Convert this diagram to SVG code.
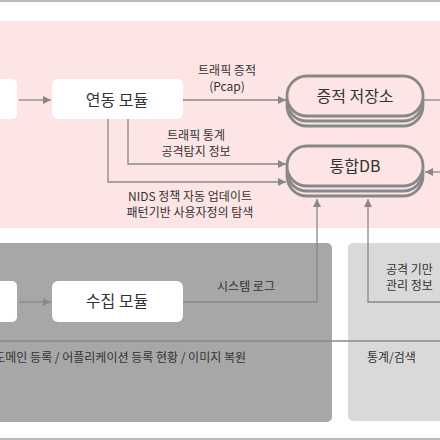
<svg xmlns="http://www.w3.org/2000/svg" width="440" height="440" viewBox="0 0 440 440">
<style>
.t{font-family:"Noto Sans CJK KR","Noto Sans",sans-serif;fill:#333}
.n{font-size:16px;text-anchor:middle}
.l{font-size:12px}
.c{text-anchor:middle}
.box{fill:#fff}
.db{fill:#fde5e5;stroke:#888;stroke-width:2.8}
.ln{fill:none;stroke:#888;stroke-width:1.3}
</style>
<defs>
<marker id="ah" viewBox="0 0 10 10" refX="10" refY="5" markerWidth="8" markerHeight="8" markerUnits="userSpaceOnUse" orient="auto">
<path d="M0,0 L10,5 L0,10 z" fill="#888"/>
</marker>
</defs>
<rect x="0" y="0" width="440" height="440" fill="#fff"/>
<rect x="0" y="0" width="440" height="2" fill="#bbb"/>
<rect x="0" y="438" width="440" height="2" fill="#bbb"/>
<rect x="0" y="21" width="440" height="207" fill="#fde5e5"/>
<rect x="-10" y="243" width="342" height="179" rx="5" fill="#a7a7a7"/>
<rect x="348" y="243" width="102" height="178" rx="5" fill="#d9d9d9"/>

<g id="connectors">
<path class="ln" d="M19,100 H51" marker-end="url(#ah)"/>
<path class="ln" d="M183,100 H286" marker-end="url(#ah)"/>
<path class="ln" d="M423,100 H440"/>
<path class="ln" d="M128,119 V164 H286" marker-end="url(#ah)"/>
<path class="ln" d="M108,119 V182 H286" marker-end="url(#ah)"/>
<path class="ln" d="M440,172 H425" marker-end="url(#ah)"/>
<path class="ln" d="M19,302 H51" marker-end="url(#ah)"/>
<path class="ln" d="M183,302 H317 V199" marker-end="url(#ah)"/>
<path class="ln" d="M440,302 H368 V199" marker-end="url(#ah)"/>
<path class="ln" d="M0,341 H440"/>
<text class="t l c" x="227" y="75">트래픽 증적<tspan x="227" dy="15.5">(Pcap)</tspan></text>
<text class="t l c" x="196" y="140">트래픽 통계<tspan x="196" dy="15.5">공격탐지 정보</tspan></text>
<text class="t l c" x="190" y="201">NIDS 정책 자동 업데이트<tspan x="190" dy="16">패턴기반 사용자정의 탐색</tspan></text>
<text class="t l c" x="246" y="291">시스템 로그</text>
<text class="t l" x="386" y="274">공격 기만<tspan x="386" dy="15.5">관리 정보</tspan></text>
<text class="t l" x="246" y="362" text-anchor="end">도메인 등록 / 어플리케이션 등록 현황 / 이미지 복원</text>
<text class="t l" x="367" y="362">통계/검색</text>
</g>

<g id="node-left-top"><rect class="box" x="-20" y="79" width="37" height="40" rx="5"/></g>
<g id="node-link"><rect class="box" x="52" y="79" width="131" height="40" rx="6"/><text class="t n" x="117" y="106">연동 모듈</text></g>
<g id="node-evidence">
<rect class="db" x="287" y="86" width="136" height="40" rx="20"/>
<rect class="db" x="287" y="81" width="136" height="40" rx="20"/>
<rect class="db" x="287" y="76" width="136" height="40" rx="20"/>
<text class="t n" x="355" y="102">증적 저장소</text>
</g>
<g id="node-db">
<rect class="db" x="287" y="156" width="136" height="40" rx="20"/>
<rect class="db" x="287" y="151" width="136" height="40" rx="20"/>
<rect class="db" x="287" y="146" width="136" height="40" rx="20"/>
<text class="t n" x="355" y="172">통합DB</text>
</g>
<g id="node-left-bottom"><rect class="box" x="-20" y="281" width="37" height="41" rx="5"/></g>
<g id="node-collect"><rect class="box" x="52" y="281" width="131" height="41" rx="6"/><text class="t n" x="117" y="307">수집 모듈</text></g>
</svg>
